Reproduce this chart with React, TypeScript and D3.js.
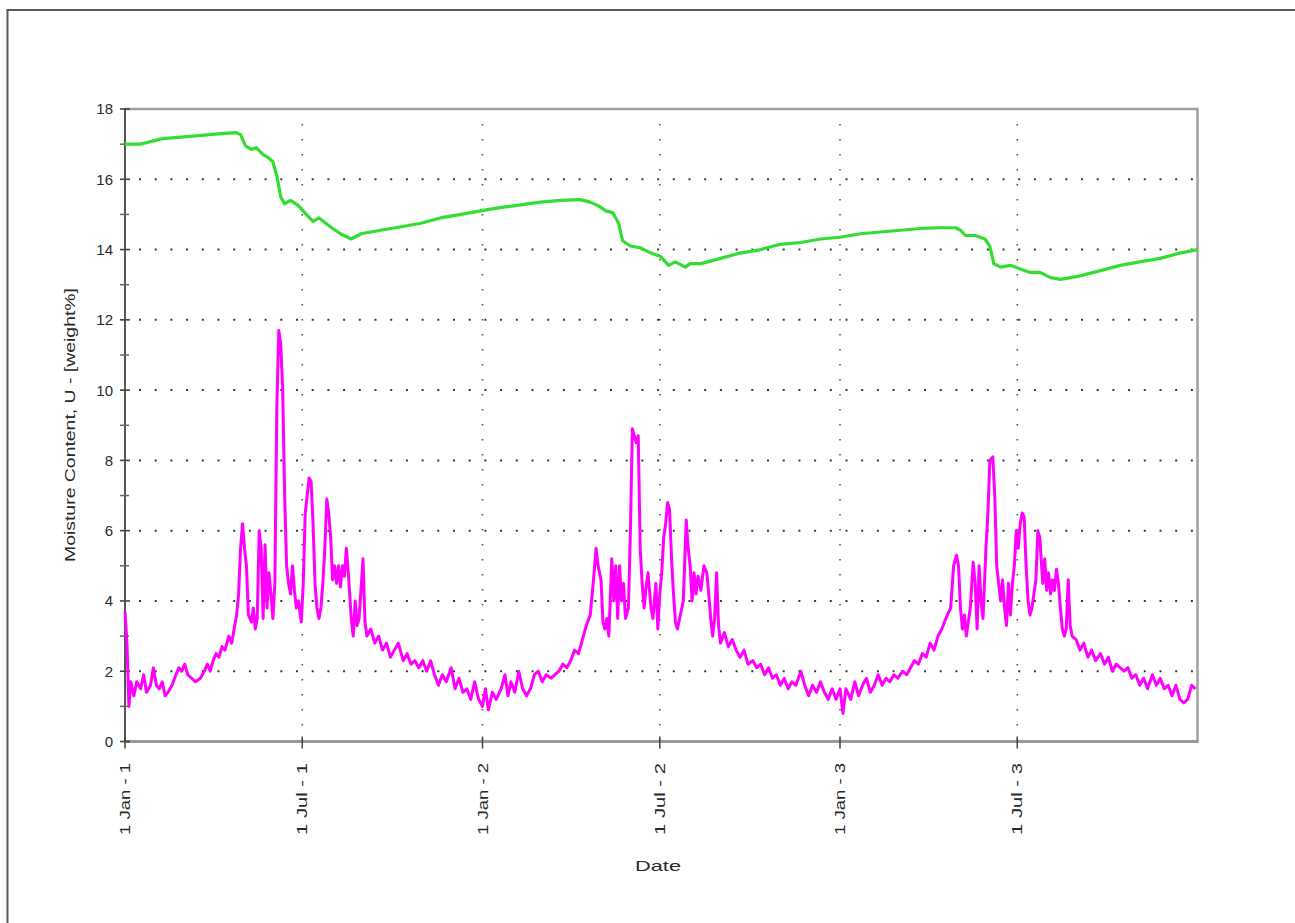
import React from "react";
import * as d3 from "d3";

// ---- data ----
const xTickDays = [0, 181, 365, 546, 730, 911];
const xTickLabels = ["1 Jan - 1", "1 Jul - 1", "1 Jan - 2", "1 Jul - 2", "1 Jan - 3", "1 Jul - 3"];
const yMajorTicks = [0, 2, 4, 6, 8, 10, 12, 14, 16, 18];
const yMinorTicks = [1, 3, 5, 7, 9, 11, 13, 15, 17];

const greenDays = [0, 16, 37, 57, 78, 98, 113, 118, 123, 129, 134, 141, 147, 151, 155, 159, 163, 169, 177, 185, 192, 198, 205, 212, 220, 231, 241, 251, 261, 282, 302, 322, 343, 363, 384, 404, 424, 445, 465, 475, 483, 491, 498, 504, 508, 516, 526, 537, 547, 555, 562, 572, 577, 588, 608, 628, 649, 669, 690, 710, 730, 751, 771, 792, 812, 832, 848, 853, 858, 868, 878, 883, 887, 894, 904, 914, 924, 934, 945, 955, 965, 975, 996, 1016, 1036, 1057, 1077, 1095];
const greenValues = [17.0, 17.0, 17.15, 17.2, 17.25, 17.3, 17.33, 17.27, 16.95, 16.85, 16.9, 16.7, 16.6, 16.5, 16.1, 15.5, 15.3, 15.4, 15.25, 15.0, 14.8, 14.9, 14.75, 14.6, 14.45, 14.3, 14.45, 14.5, 14.55, 14.65, 14.75, 14.9, 15.0, 15.1, 15.2, 15.27, 15.35, 15.4, 15.42, 15.35, 15.25, 15.1, 15.05, 14.75, 14.25, 14.1, 14.05, 13.9, 13.8, 13.55, 13.65, 13.5, 13.6, 13.6, 13.75, 13.9, 14.0, 14.15, 14.2, 14.3, 14.35, 14.45, 14.5, 14.55, 14.6, 14.62, 14.62, 14.55, 14.4, 14.4, 14.3, 14.1, 13.6, 13.5, 13.55, 13.45, 13.35, 13.35, 13.2, 13.15, 13.2, 13.25, 13.4, 13.55, 13.65, 13.75, 13.9, 14.0];

const magentaDays = [0, 2, 4, 6, 9, 12, 16, 19, 22, 26, 29, 32, 35, 38, 41, 44, 48, 52, 55, 58, 61, 64, 68, 72, 77, 81, 84, 87, 90, 93, 96, 99, 102, 106, 109, 112, 114, 116, 118, 120, 122, 124, 126, 129, 131, 133, 135, 137, 139, 141, 143, 145, 147, 149, 151, 153, 155, 157, 159, 161, 163, 165, 167, 169, 171, 173, 175, 177, 180, 182, 184, 186, 188, 190, 192, 194, 196, 198, 200, 202, 204, 206, 208, 210, 212, 214, 216, 218, 220, 222, 224, 226, 228, 231, 233, 235, 237, 239, 243, 245, 247, 251, 255, 259, 263, 267, 271, 275, 279, 284, 288, 292, 296, 300, 304, 308, 312, 316, 320, 324, 328, 333, 337, 341, 345, 349, 353, 357, 361, 365, 368, 371, 375, 379, 384, 388, 391, 394, 398, 402, 406, 410, 414, 418, 422, 426, 430, 435, 439, 443, 447, 451, 455, 459, 463, 467, 471, 475, 478, 481, 483, 486, 488, 490, 492, 494, 497, 499, 501, 503, 505, 507, 509, 511, 514, 516, 518, 520, 522, 524, 526, 528, 530, 532, 534, 537, 539, 542, 544, 546, 548, 550, 552, 554, 556, 558, 560, 562, 564, 567, 570, 573, 575, 577, 579, 581, 583, 585, 588, 591, 594, 596, 598, 600, 602, 604, 606, 608, 612, 616, 620, 624, 628, 632, 636, 641, 645, 649, 653, 657, 661, 665, 669, 673, 677, 681, 685, 690, 694, 698, 702, 706, 710, 714, 718, 722, 726, 730, 733, 736, 741, 745, 749, 753, 757, 761, 765, 769, 773, 777, 781, 785, 789, 794, 798, 802, 806, 810, 814, 818, 822, 826, 830, 834, 838, 843, 846, 849, 851, 853, 855, 857, 859, 861, 863, 866, 868, 870, 872, 874, 876, 879, 881, 883, 886, 888, 890, 892, 894, 896, 898, 900, 902, 904, 906, 908, 910, 912, 914, 916, 918, 920, 922, 924, 926, 928, 930, 932, 934, 937, 939, 941, 943, 945, 947, 949, 951, 953, 955, 957, 959, 961, 963, 965, 967, 971, 975, 979, 983, 987, 991, 996, 1000, 1004, 1008, 1012, 1016, 1020, 1024, 1028, 1032, 1036, 1040, 1044, 1049, 1053, 1057, 1061, 1065, 1069, 1073, 1077, 1081, 1085, 1089, 1093];
const magentaValues = [3.7, 2.8, 1.0, 1.7, 1.3, 1.7, 1.5, 1.9, 1.4, 1.6, 2.1, 1.6, 1.5, 1.7, 1.3, 1.4, 1.6, 1.9, 2.1, 2.0, 2.2, 1.9, 1.8, 1.7, 1.8, 2.0, 2.2, 2.0, 2.3, 2.5, 2.4, 2.7, 2.6, 3.0, 2.8, 3.3, 3.6, 4.2, 5.5, 6.2, 5.5, 5.0, 3.6, 3.4, 3.8, 3.2, 3.5, 6.0, 5.5, 3.5, 5.6, 3.8, 4.8, 4.2, 3.5, 4.5, 9.5, 11.7, 11.3, 10.0, 7.0, 5.0, 4.5, 4.2, 5.0, 4.3, 3.8, 4.0, 3.4, 4.5, 6.5, 7.0, 7.5, 7.4, 6.2, 4.5, 3.8, 3.5, 3.8, 4.5, 5.5, 6.9, 6.5, 5.8, 4.6, 5.0, 4.5, 5.0, 4.4, 5.0, 4.7, 5.5, 4.8, 3.5, 3.0, 4.0, 3.3, 3.5, 5.2, 3.4, 3.0, 3.2, 2.8, 3.0, 2.6, 2.8, 2.4, 2.6, 2.8, 2.3, 2.5, 2.2, 2.3, 2.1, 2.3, 2.0, 2.3, 1.9, 1.6, 1.9, 1.7, 2.1, 1.5, 1.8, 1.4, 1.5, 1.2, 1.7, 1.2, 1.0, 1.5, 0.9, 1.4, 1.2, 1.5, 1.9, 1.3, 1.7, 1.4, 2.0, 1.5, 1.3, 1.5, 1.9, 2.0, 1.7, 1.9, 1.8, 1.9, 2.0, 2.2, 2.1, 2.3, 2.6, 2.5, 2.9, 3.3, 3.6, 4.5, 5.5, 5.0, 4.6, 3.4, 3.2, 3.5, 3.0, 5.2, 4.0, 5.0, 3.5, 5.0, 4.0, 4.5, 3.5, 3.8, 6.0, 8.9, 8.7, 8.5, 8.7, 5.5, 4.5, 3.8, 4.4, 4.8, 3.8, 3.5, 4.5, 3.2, 4.2, 4.8, 5.8, 6.2, 6.8, 6.6, 5.2, 4.2, 3.4, 3.2, 3.6, 4.0, 6.3, 5.5, 5.0, 4.0, 4.8, 4.2, 4.7, 4.3, 5.0, 4.8, 4.2, 3.5, 3.0, 3.5, 4.8, 3.3, 2.8, 3.1, 2.7, 2.9, 2.6, 2.4, 2.6, 2.2, 2.3, 2.1, 2.2, 1.9, 2.1, 1.8, 1.9, 1.6, 1.8, 1.5, 1.7, 1.6, 2.0, 1.6, 1.3, 1.6, 1.4, 1.7, 1.4, 1.2, 1.5, 1.2, 1.5, 0.8, 1.5, 1.2, 1.7, 1.3, 1.6, 1.8, 1.4, 1.6, 1.9, 1.6, 1.8, 1.7, 1.9, 1.8, 2.0, 1.9, 2.1, 2.3, 2.2, 2.5, 2.4, 2.8, 2.6, 3.0, 3.2, 3.5, 3.8, 5.0, 5.3, 5.0, 3.8, 3.2, 3.6, 3.0, 3.4, 3.8, 5.1, 4.5, 3.2, 5.0, 4.0, 3.5, 5.5, 6.5, 8.0, 8.1, 7.0, 5.0, 4.5, 4.0, 4.6, 3.8, 3.3, 4.5, 3.6, 4.5, 5.0, 6.0, 5.5, 6.2, 6.5, 6.4, 5.0, 4.0, 3.6, 3.8, 4.2, 4.6, 6.0, 5.8, 4.5, 5.2, 4.3, 4.8, 4.2, 4.6, 4.3, 4.9, 4.5, 3.8, 3.2, 3.0, 3.2, 4.6, 3.3, 3.0, 2.9, 2.6, 2.8, 2.4, 2.6, 2.3, 2.5, 2.2, 2.4, 2.0, 2.2, 2.1, 2.0, 2.1, 1.8, 1.9, 1.6, 1.8, 1.5, 1.9, 1.6, 1.8, 1.5, 1.6, 1.3, 1.6, 1.2, 1.1, 1.2, 1.6, 1.5];

const W = 1295;
const H = 923;
const left = 125;
const right = 1197.5;
const top = 109;
const bottom = 741.5;
const font = "'Liberation Sans', Arial, sans-serif";
const textColor = "#2a2a2a";

export default function App() {
  const x = d3.scaleLinear().domain([0, 1095]).range([left, right]);
  const y = d3.scaleLinear().domain([0, 18]).range([bottom, top]);

  const line = d3
    .line<[number, number]>()
    .x((d) => x(d[0]))
    .y((d) => y(d[1]));

  const greenPts = greenDays.map((d, i) => [d, greenValues[i]] as [number, number]);
  const magPts = magentaDays.map((d, i) => [d, magentaValues[i]] as [number, number]);

  return (
    <svg
      width={W}
      height={H}
      style={{ position: "absolute", left: 0, top: 0, background: "#fff" }}
      fontFamily={font}
    >
      <rect x={0} y={0} width={W} height={H} fill="#fff" />
      {/* outer frame */}
      <line x1={6.5} x2={W} y1={10} y2={10} stroke="#4e5e5e" strokeWidth={2} />
      <line x1={7.5} x2={7.5} y1={9} y2={H} stroke="#4e5e5e" strokeWidth={2} />

      {/* horizontal grid */}
      {yMajorTicks
        .filter((v) => v > 0 && v < 18)
        .map((v) => (
          <line
            key={"hg" + v}
            x1={left + 14}
            x2={right}
            y1={y(v)}
            y2={y(v)}
            stroke="#3a3a3a"
            strokeWidth={2}
            strokeDasharray="2 13.7"
          />
        ))}
      {/* vertical grid */}
      {xTickDays
        .filter((d) => d > 0)
        .map((d) => (
          <line
            key={"vg" + d}
            x1={x(d)}
            x2={x(d)}
            y1={top + 15}
            y2={bottom}
            stroke="#555"
            strokeWidth={1.6}
            strokeDasharray="1.6 13.4"
          />
        ))}

      {/* plot border */}
      <line x1={left} x2={right + 1} y1={top} y2={top} stroke="#a0a0a0" strokeWidth={2.5} />
      <line x1={right} x2={right} y1={top} y2={bottom} stroke="#a0a0a0" strokeWidth={2.5} />
      <line x1={left} x2={right + 1} y1={bottom} y2={bottom} stroke="#9a9a9a" strokeWidth={3} />
      <line x1={left} x2={left} y1={top - 1} y2={bottom + 1} stroke="#555" strokeWidth={2} />

      {/* y ticks */}
      {yMajorTicks.map((v) => (
        <g key={"yt" + v}>
          <line x1={left - 5} x2={left + 5} y1={y(v)} y2={y(v)} stroke="#444" strokeWidth={1.6} />
          <text
            x={113}
            y={y(v)}
            dy="0.36em"
            textAnchor="end"
            fontSize={15}
            fill={textColor}
          >
            {v}
          </text>
        </g>
      ))}
      {yMinorTicks.map((v) => (
        <line key={"ym" + v} x1={left - 5} x2={left + 4} y1={y(v)} y2={y(v)} stroke="#666" strokeWidth={1.5} />
      ))}

      {/* x ticks */}
      {xTickDays.map((d, i) => (
        <g key={"xt" + d}>
          <line x1={x(d)} x2={x(d)} y1={bottom - 5} y2={bottom + 7} stroke="#444" strokeWidth={1.5} />
          <text
            transform={`translate(${x(d)},763) rotate(-90)`}
            textAnchor="end"
            dy="0.36em"
            fontSize={14}
            fill={textColor}
            textLength={72}
            lengthAdjust="spacingAndGlyphs"
          >
            {xTickLabels[i]}
          </text>
        </g>
      ))}

      {/* series */}
      <path d={line(greenPts) || ""} fill="none" stroke="#33dd33" strokeWidth={3.2} strokeLinejoin="round" />
      <path d={line(magPts) || ""} fill="none" stroke="#ff00ff" strokeWidth={3} strokeLinejoin="round" />

      {/* axis titles */}
      <text
        x={658}
        y={866}
        dy="0.36em"
        textAnchor="middle"
        fontSize={15}
        fill={textColor}
        textLength={46}
        lengthAdjust="spacingAndGlyphs"
      >
        Date
      </text>
      <text
        transform="translate(70,425) rotate(-90)"
        textAnchor="middle"
        dy="0.36em"
        fontSize={14}
        fill={textColor}
        textLength={274}
        lengthAdjust="spacingAndGlyphs"
      >
        Moisture Content, U - [weight%]
      </text>
    </svg>
  );
}
